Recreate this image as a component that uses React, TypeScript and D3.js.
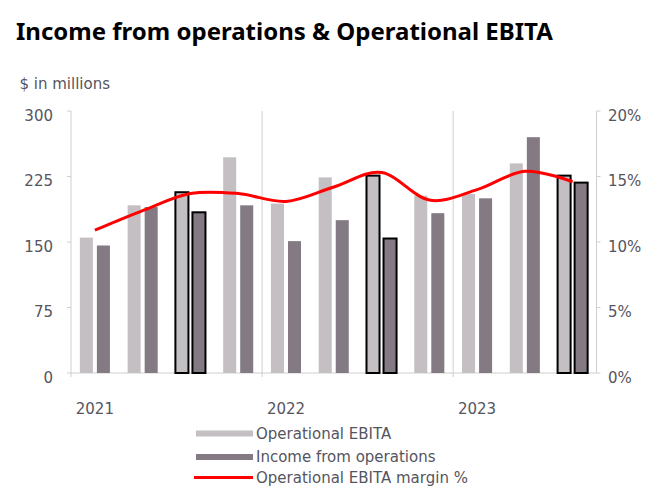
import React from "react";
import * as d3 from "d3";

const categories = ["Q1 2021", "Q2 2021", "Q3 2021", "Q4 2021", "Q1 2022", "Q2 2022", "Q3 2022", "Q4 2022", "Q1 2023", "Q2 2023", "Q3 2023"];
const operationalEbita = [155, 192, 207, 247, 194, 224, 226, 203, 205, 240, 226];
const incomeFromOps = [146, 190, 184, 192, 151, 175, 154, 183, 200, 270, 218];
const ebitaMargin = [10.9, 12.4, 13.7, 13.7, 13.1, 14.2, 15.3, 13.2, 14.0, 15.4, 14.6];
const highlighted = ["Q3 2021", "Q3 2022", "Q3 2023"];
const yearLabels = [
  { cat: "Q1 2021", label: "2021" },
  { cat: "Q1 2022", label: "2022" },
  { cat: "Q1 2023", label: "2023" },
];
const yearBoundaries = ["Q1 2022", "Q1 2023"];
const leftTicks = [0, 75, 150, 225, 300];
const rightTicks = [0, 5, 10, 15, 20];
const seriesNames = ["Operational EBITA", "Income from operations"];
const legendLabels = ["Operational EBITA", "Income from operations", "Operational EBITA margin %"];

const W = 669;
const H = 492;
const LEFT = 71;
const RIGHT = 596.5;
const TOP = 111;
const BOTTOM = 373;
const EBITA_COLOR = "#c4bfc3";
const INCOME_COLOR = "#847a83";
const AXIS_COLOR = "#cfcfcf";
const TEXT_COLOR = "#555560";
const FONT = "'DejaVu Sans', sans-serif";

export default function App() {
  const x = d3.scaleBand<string>().domain(categories).range([LEFT, RIGHT]).paddingInner(0).paddingOuter(0);
  const step = x.bandwidth();
  const inner = d3
    .scaleBand<string>()
    .domain(seriesNames)
    .range([0, step])
    .paddingInner(4 / 17)
    .paddingOuter(0.52);
  const yL = d3.scaleLinear().domain([0, 300]).range([BOTTOM, TOP]);
  const yR = d3.scaleLinear().domain([0, 20]).range([BOTTOM, TOP]);

  const line = d3
    .line<number>()
    .x((_, i) => (x(categories[i]) as number) + step / 2)
    .y((d) => yR(d))
    .curve(d3.curveCardinal.tension(0));

  const bw = inner.bandwidth();

  const bars: React.ReactNode[] = [];
  categories.forEach((c, i) => {
    const hl = highlighted.includes(c);
    const vals = [operationalEbita[i], incomeFromOps[i]];
    const colors = [EBITA_COLOR, INCOME_COLOR];
    seriesNames.forEach((s, j) => {
      const bx = (x(c) as number) + (inner(s) as number);
      const by = yL(vals[j]);
      bars.push(
        <rect
          key={c + s}
          x={bx}
          y={by}
          width={bw}
          height={yL(0) - by}
          fill={colors[j]}
          stroke={hl ? "#000" : "none"}
          strokeWidth={hl ? 2 : 0}
        />
      );
    });
  });

  return (
    <svg width={W} height={H} style={{ position: "absolute", left: 0, top: 0, background: "#fff" }}>
      <text x={16} y={39.5} fontFamily="'Noto Sans', sans-serif" fontWeight="bold" fontSize={24} fill="#000">
        Income from operations &amp; Operational EBITA
      </text>
      <text x={19.5} y={89} fontFamily={FONT} fontSize={15} fill={TEXT_COLOR}>
        $ in millions
      </text>

      {/* year separators */}
      {yearBoundaries.map((c) => (
        <line key={c} x1={x(c) as number} x2={x(c) as number} y1={TOP} y2={BOTTOM + 4} stroke={AXIS_COLOR} strokeWidth={1} />
      ))}

      {/* left axis */}
      <line x1={LEFT} x2={LEFT} y1={TOP} y2={BOTTOM + 4} stroke={AXIS_COLOR} strokeWidth={1} />
      {leftTicks.map((t) => (
        <g key={"l" + t}>
          <line x1={LEFT - 4} x2={LEFT} y1={yL(t)} y2={yL(t)} stroke={AXIS_COLOR} />
          <text x={53} y={yL(t) + 9.5} textAnchor="end" fontFamily={FONT} fontSize={15} fill={TEXT_COLOR}>
            {t}
          </text>
        </g>
      ))}

      {/* right axis */}
      <line x1={RIGHT} x2={RIGHT} y1={TOP} y2={BOTTOM} stroke={AXIS_COLOR} strokeWidth={1} />
      {rightTicks.map((t) => (
        <g key={"r" + t}>
          <line x1={RIGHT} x2={RIGHT + 4} y1={yR(t)} y2={yR(t)} stroke={AXIS_COLOR} />
          <text x={608} y={yR(t) + 9.5} textAnchor="start" fontFamily={FONT} fontSize={15} fill={TEXT_COLOR}>
            {t + "%"}
          </text>
        </g>
      ))}

      {/* baseline */}
      <line x1={LEFT} x2={RIGHT} y1={BOTTOM} y2={BOTTOM} stroke={AXIS_COLOR} strokeWidth={1} />

      {bars}

      <path d={line(ebitaMargin) || ""} fill="none" stroke="#ff0000" strokeWidth={3} />

      {/* year labels */}
      {yearLabels.map((yl) => (
        <text
          key={yl.label}
          x={(x(yl.cat) as number) + step / 2}
          y={414}
          textAnchor="middle"
          fontFamily={FONT}
          fontSize={15}
          fill={TEXT_COLOR}
        >
          {yl.label}
        </text>
      ))}

      {/* legend */}
      <rect x={196} y={430.5} width={57} height={6} fill={EBITA_COLOR} />
      <text x={256} y={439} fontFamily={FONT} fontSize={15} fill={TEXT_COLOR}>
        {legendLabels[0]}
      </text>
      <rect x={196} y={454} width={57} height={6} fill={INCOME_COLOR} />
      <text x={256} y={461.5} fontFamily={FONT} fontSize={15} fill={TEXT_COLOR}>
        {legendLabels[1]}
      </text>
      <line x1={194} x2={253} y1={477.5} y2={477.5} stroke="#ff0000" strokeWidth={3} />
      <text x={256} y={482.5} fontFamily={FONT} fontSize={15} fill={TEXT_COLOR}>
        {legendLabels[2]}
      </text>
    </svg>
  );
}
